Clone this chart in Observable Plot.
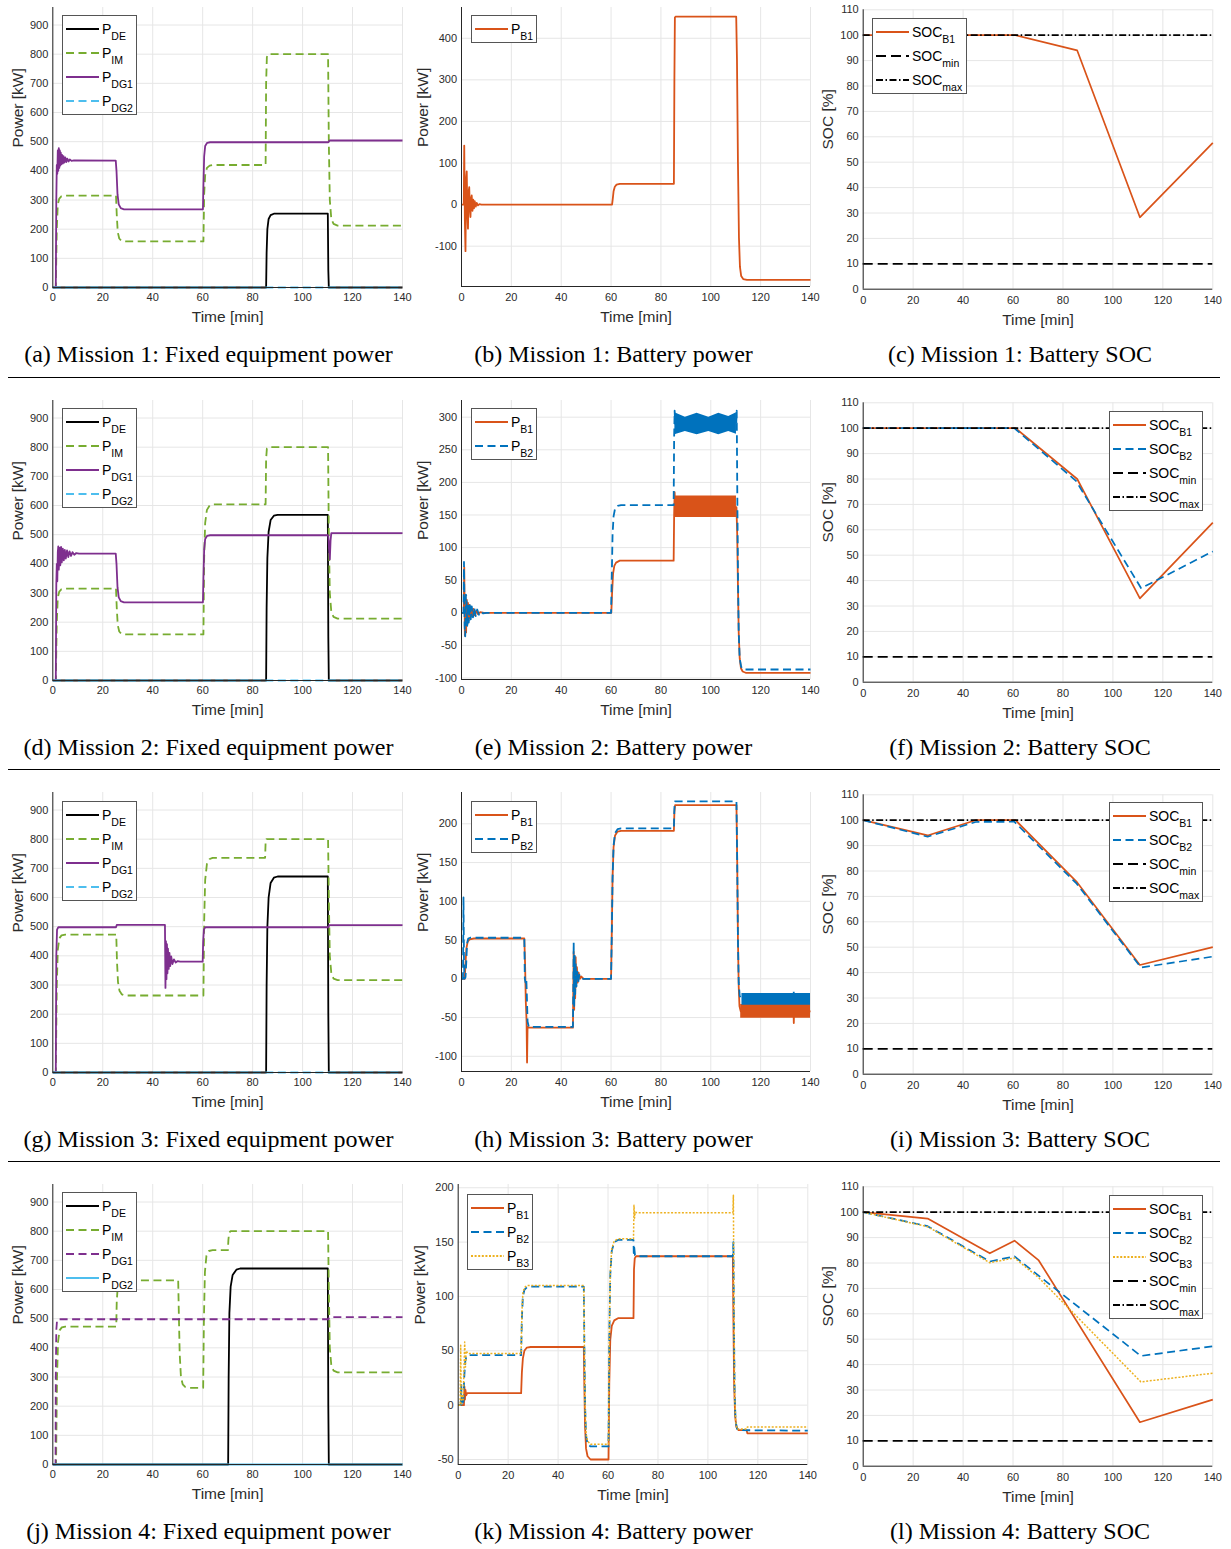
<!DOCTYPE html>
<html><head><meta charset="utf-8">
<script src="https://cdn.jsdelivr.net/npm/d3@7"></script>
<script src="https://cdn.jsdelivr.net/npm/@observablehq/plot@0.6"></script>
<style>
body{margin:0;background:#fff;}
#page{position:relative;width:1231px;height:1549px;overflow:hidden;background:#fff;}
.legend{position:absolute;background:#fff;border:1px solid #555;box-sizing:border-box;padding:1px 3px 1px 3px;font-family:"Liberation Sans",Arial,sans-serif;}
.lrow{display:flex;align-items:center;height:24px;font-size:14px;color:#000;white-space:nowrap;}
.lrow svg{margin-right:3px;flex:none;}
.lrow sub{font-size:10.5px;vertical-align:-6px;line-height:0;}
.caption{position:absolute;font-family:"Liberation Serif","Times New Roman",serif;font-size:24px;line-height:24px;transform:translateX(-50%);white-space:nowrap;color:#000;}
.rule{position:absolute;left:8px;width:1212px;height:0;border-top:1px solid #000;}
</style></head><body><div id="page"></div>
<script>
// ---------- axes / ticks ----------
const timeDomain = [0, 140];
const timeTicks = [0, 20, 40, 60, 80, 100, 120, 140];
const fixedTicks = [0, 100, 200, 300, 400, 500, 600, 700, 800, 900];
const bat1Ticks = [-100, 0, 100, 200, 300, 400];
const bat2Ticks = [-100, -50, 0, 50, 100, 150, 200, 250, 300];
const bat3Ticks = [-100, -50, 0, 50, 100, 150, 200];
const bat4Ticks = [-50, 0, 50, 100, 150, 200];
const socTicks = [0, 10, 20, 30, 40, 50, 60, 70, 80, 90, 100, 110];
const socMin = 10, socMax = 100;

// ---------- Mission 1 ----------
const m1_PDE = [[0,0],[85.4,0],[85.6,120],[85.9,200],[86.4,235],[87.2,248],[88.5,253],[110.1,253],[110.3,60],[110.5,0],[140,0]];
const m1_PIM = [[0,0],[1.2,0],[1.6,200],[2.0,285],[2.6,305],[3.5,313],[5,315],[25.3,315],[25.6,250],[26.0,190],[26.6,168],[27.5,160],[29,158],[60.3,158],[60.6,320],[61.0,385],[61.7,410],[62.8,418],[64,420],[85.2,420],[85.4,700],[85.7,790],[86.3,800],[110.2,800],[110.5,500],[110.9,300],[111.5,235],[112.4,218],[114,212],[140,212]];
const m1_PDG1 = [[0,0],[1.2,0],[1.4,300],[1.6,420],[1.8,390],[2.0,470],[2.2,400],[2.4,478],[2.6,410],[2.8,470],[3.0,418],[3.2,462],[3.4,422],[3.7,455],[4.0,425],[4.3,450],[4.6,428],[5.0,446],[5.4,430],[5.8,442],[6.3,432],[6.8,439],[7.5,434],[8.5,436],[25.2,435],[25.5,400],[25.9,320],[26.4,285],[27.2,272],[28.5,268],[60.1,268],[60.3,350],[60.6,450],[61.0,485],[61.8,496],[63,498],[110.3,498],[110.8,504],[140,504]];
const m1_PDG2 = [[0,0],[140,0]];
const m1_PB1 = [[0,0],[0.9,0],[1.1,142],[1.35,-40],[1.6,-112],[1.85,60],[2.1,80],[2.35,-20],[2.6,-58],[2.85,30],[3.1,42],[3.35,-10],[3.6,-30],[3.85,15],[4.1,22],[4.4,-15],[4.7,12],[5.0,-9],[5.3,8],[5.7,-5],[6.1,4],[6.6,-2],[7.2,1],[8,0],[60.4,0],[60.7,15],[61.0,32],[61.5,43],[62.2,48],[63.5,50],[85.2,50],[85.4,300],[85.6,450],[85.9,452],[110.2,452],[110.5,350],[110.9,100],[111.3,-80],[111.7,-150],[112.2,-172],[113,-179],[114.5,-181],[140,-181]];
const m1_SOCB1 = [[0,100],[61,100],[85.7,94],[110.8,28.3],[140,57.6]];

// ---------- Mission 2 ----------
const m2_PDE = [[0,0],[85.4,0],[85.6,250],[85.9,420],[86.4,510],[87.2,550],[88.5,565],[90,568],[110.1,568],[110.3,150],[110.5,0],[140,0]];
const m2_PIM = [[0,0],[1.2,0],[1.6,200],[2.0,285],[2.6,305],[3.5,313],[5,315],[25.3,315],[25.6,250],[26.0,190],[26.6,168],[27.5,160],[29,158],[60.3,158],[60.6,420],[61.0,540],[61.7,585],[62.8,600],[64,604],[85.2,604],[85.4,760],[85.7,795],[86.3,800],[110.2,800],[110.5,500],[110.9,300],[111.5,235],[112.4,218],[114,212],[140,212]];
const m2_PDG1 = [[0,0],[1.2,0],[1.4,330],[1.6,400],[1.8,340],[2.0,440],[2.2,460],[2.4,380],[2.7,455],[3.0,395],[3.3,458],[3.6,405],[4.0,452],[4.4,412],[4.8,448],[5.2,418],[5.7,446],[6.2,423],[6.7,443],[7.3,427],[7.9,440],[8.6,431],[9.4,437],[10.5,435],[25.2,435],[25.5,400],[25.9,320],[26.4,285],[27.2,272],[28.5,268],[60.1,268],[60.3,350],[60.6,450],[61.0,485],[61.8,496],[63,498],[110.3,498],[110.6,450],[110.9,415],[111.2,480],[111.5,505],[140,505]];
const m2_PDG2 = [[0,0],[140,0]];
const m2_PB1 = [[0,0],[0.9,0],[1.1,70],[1.35,-35],[1.6,25],[1.85,-30],[2.1,20],[2.35,-18],[2.6,15],[2.9,-12],[3.2,12],[3.5,-8],[3.9,8],[4.3,-6],[4.8,6],[5.3,-4],[5.9,3],[6.6,-2],[7.5,1],[9,0],[60.1,0],[60.4,30],[60.8,60],[61.3,72],[62,77],[63.5,80],[85.1,80],[85.3,150],[85.5,185],[85.7,162],[110.3,162],[110.6,120],[110.9,40],[111.2,-30],[111.6,-70],[112.1,-85],[112.8,-90],[114,-92],[140,-92]];
const m2_PB1band = [[85.6,146,179],[110.3,146,179]];
const m2_PB2 = [[0,0],[0.8,0],[1.0,78],[1.25,-20],[1.5,-36],[1.75,28],[2.0,25],[2.3,-20],[2.6,15],[2.9,-15],[3.3,14],[3.7,-10],[4.1,10],[4.6,-7],[5.1,8],[5.7,-5],[6.3,5],[7,-3],[7.8,2],[8.7,-1],[10,0],[60.0,0],[60.3,60],[60.6,120],[61.0,148],[61.6,160],[62.6,164],[64,165],[85.1,165],[85.3,270],[85.5,310],[85.7,290],[110.2,290],[110.4,310],[110.6,200],[110.9,60],[111.2,-30],[111.6,-70],[112.2,-83],[113,-87],[140,-87]];
const m2_PB2band = [[85.6,273,307],[89.8,278,300],[94.5,273,306],[99.2,278,300],[103.2,273,306],[107.2,278,301],[110.3,274,307]];
const m2_SOCB1 = [[0,100],[61,100],[85.7,80],[110.8,33],[140,62.8]];
const m2_SOCB2 = [[0,100],[60.5,100],[85.2,79.3],[111.3,37],[140,51.5]];

// ---------- Mission 3 ----------
const m3_PDE = [[0,0],[85.4,0],[85.6,300],[85.9,500],[86.4,600],[87.2,650],[88.5,668],[90,672],[110.1,672],[110.3,200],[110.5,0],[140,0]];
const m3_PIM = [[0,0],[1.2,0],[1.6,300],[2.0,420],[2.6,460],[3.5,470],[5,473],[25.4,473],[25.7,380],[26.1,310],[26.7,280],[27.6,268],[29,264],[60.3,264],[60.6,520],[61.0,660],[61.7,715],[62.8,732],[64,736],[85.0,736],[85.2,790],[85.5,800],[110.2,800],[110.5,600],[110.9,400],[111.5,340],[112.4,322],[114,317],[140,317]];
const m3_PDG1 = [[0,0],[1.2,0],[1.4,400],[1.7,490],[2.2,498],[25.3,498],[25.6,506],[44.9,506],[45.1,290],[45.3,450],[45.5,320],[45.7,440],[45.9,340],[46.1,425],[46.4,355],[46.7,410],[47.0,365],[47.4,398],[47.9,372],[48.5,388],[49.2,377],[50,382],[51,380],[60.0,380],[60.2,450],[60.5,490],[61,498],[110.3,498],[110.7,505],[140,505]];
const m3_PDG2 = [[0,0],[140,0]];
const m3_PB1 = [[0,0],[1.3,0],[1.6,20],[2.0,40],[2.5,48],[3.3,51],[5,52],[25.2,52],[25.5,20],[25.8,-30],[26.1,-55],[26.3,-108],[26.5,-62],[27,-63],[44.7,-63],[44.9,0],[45.0,35],[45.2,-40],[45.4,25],[45.6,-25],[45.8,28],[46.0,-10],[46.3,15],[46.6,-5],[47.0,8],[47.5,0],[48,3],[49,0],[60.0,0],[60.3,60],[60.6,130],[61.0,170],[61.6,185],[62.6,190],[64,191],[85.2,191],[85.4,215],[85.7,224],[110.3,224],[110.6,150],[110.9,50],[111.2,-10],[111.5,-35],[112,-42],[133.2,-42],[133.3,-57],[133.4,-42],[140,-42]];
const m3_PB1band = [[112,-51,-33],[140,-51,-33]];
const m3_PB2 = [[0,0],[0.6,0],[0.8,105],[1.0,20],[1.2,0],[1.6,2],[1.9,20],[2.2,45],[2.7,52],[3.5,53],[25.2,53],[25.4,0],[25.7,-5],[26.0,0],[26.2,-20],[26.5,-55],[27,-62],[44.7,-62],[44.9,0],[45.0,47],[45.2,-35],[45.4,30],[45.6,-20],[45.8,20],[46.1,-10],[46.4,12],[46.8,-5],[47.3,5],[48,0],[60.0,0],[60.3,60],[60.6,130],[61.0,172],[61.6,188],[62.6,193],[64,194],[85.2,194],[85.4,220],[85.6,229],[110.3,229],[110.6,150],[110.9,50],[111.2,-5],[111.6,-22],[112.5,-27],[133.2,-27],[133.3,-15],[133.4,-27],[140,-27]];
const m3_PB2band = [[112.5,-34,-19],[140,-34,-19]];
const m3_SOCB1 = [[0,100],[25.8,94],[45,100],[61,100],[85.7,75.5],[110.8,43],[140,50]];
const m3_SOCB2 = [[0,100],[25.8,93.5],[45,99.3],[60.5,99.4],[85.5,75],[111.2,42],[140,46.3]];

// ---------- Mission 4 ----------
const m4_PDE = [[0,0],[70.2,0],[70.4,300],[70.7,520],[71.2,610],[72,650],[73.5,668],[75,672],[110.1,672],[110.3,200],[110.5,0],[140,0]];
const m4_PIM = [[0,0],[1.3,0],[1.7,300],[2.1,420],[2.7,460],[3.6,470],[5,473],[25.4,473],[25.6,560],[26.0,610],[26.6,625],[27.6,630],[29,631],[50.2,631],[50.5,500],[50.8,380],[51.3,300],[52,275],[53,266],[54.5,263],[60.2,263],[60.5,500],[60.9,660],[61.5,715],[62.5,732],[64,735],[70.1,735],[70.3,770],[70.6,795],[71.2,800],[110.2,800],[110.5,600],[110.9,400],[111.5,340],[112.4,322],[114,316],[140,316]];
const m4_PDG1 = [[0,0],[1.1,0],[1.2,300],[1.4,460],[1.7,495],[2.2,498],[110.3,498],[110.7,505],[140,505]];
const m4_PDG2 = [[0,0],[140,0]];
const m4_PB1 = [[0,0],[2.3,0],[2.5,17],[2.7,5],[2.9,14],[3.2,9],[3.6,11],[25.2,11],[25.5,30],[25.9,43],[26.5,50],[27.5,53],[29,53.5],[50.3,53.5],[50.5,20],[50.8,-20],[51.2,-40],[51.8,-47],[53,-50],[60.2,-50],[60.5,20],[60.9,60],[61.5,73],[62.5,78],[64,80],[70.2,80],[70.4,125],[70.7,135],[71.2,137],[110.0,137],[110.2,80],[110.5,20],[110.9,-10],[111.4,-20],[112.3,-23],[115.5,-23],[115.8,-26],[140,-26]];
const m4_PB2 = [[0,0],[1.0,0],[1.2,20],[1.4,0],[2.0,0],[2.4,25],[2.8,40],[3.3,45],[4.5,46],[25.2,46],[25.5,80],[25.9,100],[26.5,106],[27.5,108.5],[29,109],[50.3,109],[50.5,60],[50.8,0],[51.2,-28],[51.8,-36],[53,-38],[60.2,-38],[60.5,60],[60.9,120],[61.5,142],[62.5,150],[64,152],[70.2,152],[70.3,140],[70.5,145],[70.8,138],[71.5,137],[110.0,137],[110.2,150],[110.4,80],[110.7,10],[111.1,-15],[111.7,-22],[112.5,-23],[140,-23.5]];
const m4_PB3 = [[0,0],[0.8,0],[1.0,55],[1.2,0],[1.6,10],[2.0,5],[2.6,58],[2.9,35],[3.2,50],[3.8,47.5],[25.2,47.5],[25.5,85],[25.9,103],[26.5,108],[27.5,110],[50.3,110],[50.5,60],[50.8,0],[51.2,-26],[51.8,-33],[53,-36],[60.2,-36],[60.5,60],[60.9,122],[61.5,144],[62.5,151],[64,153],[70.2,153],[70.4,184],[70.6,172],[70.9,178],[71.5,177],[110.0,177],[110.2,193],[110.4,100],[110.7,10],[111.1,-15],[111.7,-22],[115.5,-22],[115.8,-20],[140,-20]];
const m4_SOCB1 = [[0,100],[25.8,97.5],[50.7,83.8],[60.6,88.8],[70.3,81],[110.8,17.3],[140,26.2]];
const m4_SOCB2 = [[0,100],[25.8,94.5],[50.7,80.6],[60.6,82.6],[70.5,74.8],[111.2,43.4],[140,47.2]];
const m4_SOCB3 = [[0,100],[25.8,94.3],[50.7,80.1],[60.6,82],[70.5,74],[111.2,33.2],[140,36.6]];

const captions = [
  "(a) Mission 1: Fixed equipment power", "(b) Mission 1: Battery power", "(c) Mission 1: Battery SOC",
  "(d) Mission 2: Fixed equipment power", "(e) Mission 2: Battery power", "(f) Mission 2: Battery SOC",
  "(g) Mission 3: Fixed equipment power", "(h) Mission 3: Battery power", "(i) Mission 3: Battery SOC",
  "(j) Mission 4: Fixed equipment power", "(k) Mission 4: Battery power", "(l) Mission 4: Battery SOC"
];

// ---------- styles & layout ----------
const DASH = "8,4.5";
const S = {
  DE: {color: "#000000", dash: null, base: "P", sub: "DE"},
  IM: {color: "#77AC30", dash: DASH, base: "P", sub: "IM"},
  DG1: {color: "#7E2F8E", dash: null, base: "P", sub: "DG1"},
  DG1d: {color: "#7E2F8E", dash: DASH, base: "P", sub: "DG1"},
  DG2d: {color: "#4DBEEE", dash: DASH, base: "P", sub: "DG2"},
  DG2: {color: "#4DBEEE", dash: null, base: "P", sub: "DG2"},
  B1: {color: "#D95319", dash: null, base: "P", sub: "B1"},
  B2: {color: "#0072BD", dash: DASH, base: "P", sub: "B2"},
  B3: {color: "#EDB120", dash: "2,1.6", base: "P", sub: "B3"},
  SB1: {color: "#D95319", dash: null, base: "SOC", sub: "B1"},
  SB2: {color: "#0072BD", dash: DASH, base: "SOC", sub: "B2"},
  SB3: {color: "#EDB120", dash: "2,1.6", base: "SOC", sub: "B3"},
  MIN: {color: "#000000", dash: "10,5", base: "SOC", sub: "min"},
  MAX: {color: "#000000", dash: "7,2.5,1.5,2.5", base: "SOC", sub: "max"}
};
const GRID = "#e6e6e6", AXIS = "#262626", TXT = "#2b2b2b";
const FONT = "'Liberation Sans', Arial, Helvetica, sans-serif";
const H = 330;
const rowTop = [0, 393, 785, 1177];
const COL = [
  {left: 0, width: 410, ml: 52.3, mr: 8, mt: 7, mb: 43, xtp: 6, ytp: 4.5, ylabDx: -34.8, xlabDy: 30},
  {left: 410, width: 410, ml: 51, mr: 10, mt: 7, mb: 44, xtp: 7, ytp: 4.5, ylabDx: -38.5, xlabDy: 30.5},
  {left: 820, width: 411, ml: 42.7, mr: 18.7, mt: 9.3, mb: 41.3, xtp: 7, ytp: 4.5, ylabDx: -34.7, xlabDy: 31}
];
const capX = [208.5, 613.5, 1020];
const capY = [356.5, 749, 1141, 1533];
const ruleY = [377, 769, 1161];

const fixedLegend = [S.DE, S.IM, S.DG1, S.DG2d];
const panels = [
  {row:0, col:0, y:[0,960], ticks: fixedTicks, ylabel: "Power [kW]",
   series: [{data:m1_PDE, s:S.DE},{data:m1_PIM, s:S.IM},{data:m1_PDG1, s:S.DG1},{data:m1_PDG2, s:S.DG2d}],
   legend: {left:62, top:15, w:75, items: fixedLegend}},
  {row:0, col:1, y:[-197,474], ticks: bat1Ticks, ylabel: "Power [kW]",
   series: [{data:m1_PB1, s:S.B1}],
   legend: {left:471, top:15, w:66, items: [S.B1]}},
  {row:0, col:2, y:[0,110], ticks: socTicks, ylabel: "SOC [%]",
   series: [{data:m1_SOCB1, s:S.SB1},{level:socMin, s:S.MIN},{level:socMax, s:S.MAX}],
   legend: {left:872, top:18, w:95, items: [S.SB1, S.MIN, S.MAX]}},

  {row:1, col:0, y:[0,960], ticks: fixedTicks, ylabel: "Power [kW]",
   series: [{data:m2_PDE, s:S.DE},{data:m2_PIM, s:S.IM},{data:m2_PDG1, s:S.DG1},{data:m2_PDG2, s:S.DG2d}],
   legend: {left:62, top:408, w:75, items: fixedLegend}},
  {row:1, col:1, y:[-102.3,325.6], ticks: bat2Ticks, ylabel: "Power [kW]",
   series: [{data:m2_PB1, s:S.B1},{band:m2_PB1band, s:S.B1},{data:m2_PB2, s:S.B2},{band:m2_PB2band, s:S.B2}],
   legend: {left:471, top:408, w:66, items: [S.B1, S.B2]}},
  {row:1, col:2, y:[0,110], ticks: socTicks, ylabel: "SOC [%]",
   series: [{data:m2_SOCB1, s:S.SB1},{data:m2_SOCB2, s:S.SB2},{level:socMin, s:S.MIN},{level:socMax, s:S.MAX}],
   legend: {left:1109, top:411, w:94, items: [S.SB1, S.SB2, S.MIN, S.MAX]}},

  {row:2, col:0, y:[0,960], ticks: fixedTicks, ylabel: "Power [kW]",
   series: [{data:m3_PDE, s:S.DE},{data:m3_PIM, s:S.IM},{data:m3_PDG1, s:S.DG1},{data:m3_PDG2, s:S.DG2d}],
   legend: {left:62, top:801, w:75, items: fixedLegend}},
  {row:2, col:1, y:[-119.6,240.4], ticks: bat3Ticks, ylabel: "Power [kW]",
   series: [{data:m3_PB1, s:S.B1},{band:m3_PB1band, s:S.B1},{data:m3_PB2, s:S.B2},{band:m3_PB2band, s:S.B2}],
   legend: {left:471, top:801, w:66, items: [S.B1, S.B2]}},
  {row:2, col:2, y:[0,110], ticks: socTicks, ylabel: "SOC [%]",
   series: [{data:m3_SOCB1, s:S.SB1},{data:m3_SOCB2, s:S.SB2},{level:socMin, s:S.MIN},{level:socMax, s:S.MAX}],
   legend: {left:1109, top:802, w:94, items: [S.SB1, S.SB2, S.MIN, S.MAX]}},

  {row:3, col:0, y:[0,960], ticks: fixedTicks, ylabel: "Power [kW]",
   series: [{data:m4_PDE, s:S.DE},{data:m4_PIM, s:S.IM},{data:m4_PDG1, s:S.DG1d},{data:m4_PDG2, s:S.DG2}],
   legend: {left:62, top:1192, w:75, items: [S.DE, S.IM, S.DG1d, S.DG2]}},
  {row:3, col:1, y:[-54.6,203], ticks: bat4Ticks, ylabel: "Power [kW]", ml: 47.7, mr: 12.7, mb: 43,
   series: [{data:m4_PB1, s:S.B1},{data:m4_PB2, s:S.B2},{data:m4_PB3, s:S.B3, w:1.5}],
   legend: {left:467, top:1194, w:66, items: [S.B1, S.B2, S.B3]}},
  {row:3, col:2, y:[0,110], ticks: socTicks, ylabel: "SOC [%]",
   series: [{data:m4_SOCB1, s:S.SB1},{data:m4_SOCB2, s:S.SB2},{data:m4_SOCB3, s:S.SB3, w:1.5},{level:socMin, s:S.MIN},{level:socMax, s:S.MAX}],
   legend: {left:1109, top:1195, w:94, items: [S.SB1, S.SB2, S.SB3, S.MIN, S.MAX]}}
];

const page = document.getElementById("page");

function makePanel(p) {
  const c = COL[p.col];
  const ml = p.ml ?? c.ml, mr = p.mr ?? c.mr, mb = p.mb ?? c.mb;
  const soc = p.col === 2;
  const marks = [
    Plot.gridX(timeTicks, {stroke: GRID, strokeOpacity: 1, strokeWidth: 1}),
    Plot.gridY(p.ticks, {stroke: GRID, strokeOpacity: 1, strokeWidth: 1})
  ];
  for (const sr of p.series) {
    const st = sr.s;
    if (sr.band) {
      marks.push(Plot.areaY(sr.band, {x: d => d[0], y1: d => d[1], y2: d => d[2], fill: st.color, fillOpacity: 1}));
    } else if (sr.data) {
      marks.push(Plot.line(sr.data, {x: d => d[0], y: d => d[1], stroke: st.color,
        strokeWidth: sr.w ?? (soc ? 1.7 : 1.8), strokeDasharray: st.dash ?? undefined,
        strokeLinecap: "butt", strokeLinejoin: "round"}));
    } else if (sr.level != null) {
      marks.push(Plot.ruleY([sr.level], {stroke: st.color, strokeWidth: 1.7, strokeDasharray: st.dash ?? undefined}));
    }
  }
  marks.push(
    Plot.ruleX([timeDomain[0]], {stroke: AXIS, strokeWidth: 1}),
    Plot.ruleY([p.y[0]], {stroke: AXIS, strokeWidth: 1}),
    Plot.axisX(timeTicks, {tickSize: 0, tickPadding: c.xtp, fontSize: 11, label: null, tickFormat: d => String(d)}),
    Plot.axisY(p.ticks, {tickSize: 0, tickPadding: c.ytp, fontSize: 11, label: null, tickFormat: d => String(d)}),
    Plot.text(["Time [min]"], {text: d => d, frameAnchor: "bottom", dy: c.xlabDy, fontSize: 15.5, lineAnchor: "middle", fill: TXT}),
    Plot.text([p.ylabel], {text: d => d, frameAnchor: "left", dx: c.ylabDx, rotate: -90, fontSize: 15.5, lineAnchor: "middle", fill: TXT})
  );
  const svg = Plot.plot({
    width: c.width, height: H,
    marginLeft: ml, marginRight: mr, marginTop: c.mt, marginBottom: mb,
    x: {domain: timeDomain},
    y: {domain: p.y},
    style: {fontFamily: FONT, color: TXT, background: "transparent", overflow: "visible"},
    marks
  });
  svg.style.position = "absolute";
  svg.style.left = c.left + "px";
  svg.style.top = rowTop[p.row] + "px";
  page.appendChild(svg);

  // legend
  const L = p.legend;
  const box = document.createElement("div");
  box.className = "legend";
  box.style.left = L.left + "px";
  box.style.top = L.top + "px";
  box.style.width = L.w + "px";
  for (const it of L.items) {
    const row = document.createElement("div");
    row.className = "lrow";
    row.innerHTML = `<svg width="33" height="10"><line x1="0" x2="33" y1="5" y2="5" stroke="${it.color}" stroke-width="1.8"${it.dash ? ` stroke-dasharray="${it.dash}"` : ""}/></svg><span>${it.base}<sub>${it.sub}</sub></span>`;
    box.appendChild(row);
  }
  page.appendChild(box);
}

panels.forEach(makePanel);

captions.forEach((t, i) => {
  const r = Math.floor(i / 3), c = i % 3;
  const d = document.createElement("div");
  d.className = "caption";
  d.textContent = t;
  d.style.left = capX[c] + "px";
  d.style.top = (capY[r] - 14.5) + "px";
  page.appendChild(d);
});
ruleY.forEach(y => {
  const d = document.createElement("div");
  d.className = "rule";
  d.style.top = y + "px";
  page.appendChild(d);
});
</script>
</body></html>
